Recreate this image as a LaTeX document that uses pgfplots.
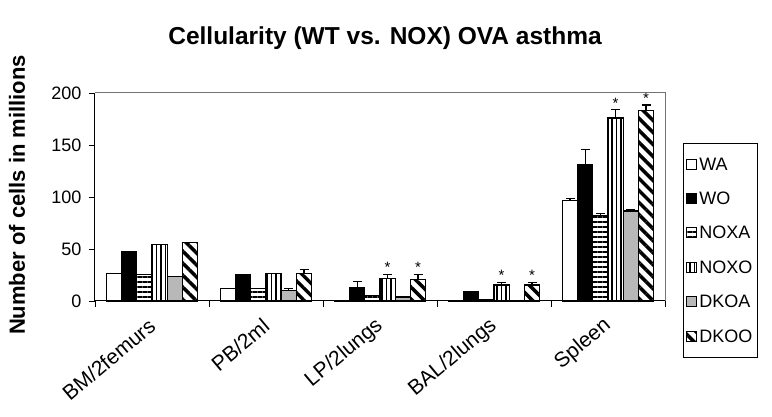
\documentclass[border=0pt]{standalone}
\usepackage{fontspec}
\setmainfont{Liberation Sans}
\usepackage{pgfplots}
\pgfplotsset{compat=1.18}
\usepackage{pgfplotstable}
\usetikzlibrary{patterns.meta}

% cell counts (millions) per compartment, with upper error and significance flag
\pgfplotstableread{
x   WA   WAe  WO    WOe  NOXA NOXAe NOXO NOXOe NOXOs DKOA DKOAe DKOO DKOOe DKOOs
0.5 26.5 0    47.7  0    25.8 0     54   0     n     23.2 0     56.4 0     n
1.5 12.2 0    25.8  0    12.2 0     26.4 0     n     10.3 2     26.4 3.6   n
2.5 0.8  0    12.9  5.5  5.5  0     21.9 3.9   s     3.9  0     20.3 5.2   s
3.5 0.5  0    8.7   0    1    0     15.4 2.6   s     0.8  0     15.4 2.6   s
4.5 96.5 2    131.5 14.5 82   2     176  8     s     86.5 1     183  5.5   s
}\cells

\pgfplotsset{
  barbase/.style={
    draw=black, line width=1.2pt,
    legend image code/.code={\draw[##1, line width=1pt] (0pt,-4.5pt) rectangle (10pt,5.5pt);},
    error bars/y dir=plus,
    error bars/y explicit,
    error bars/error bar style={black, line width=1.2pt},
    error bars/error mark options={black, rotate=90, line width=1.2pt, mark size=4.5pt},
  },
  starred/.style={
    point meta=explicit symbolic,
    nodes near coords={\if s\pgfplotspointmeta *\fi},
    visualization depends on={\thisrow{#1} \as \errv},
    every node near coord/.append style={
      anchor=south, inner sep=1pt, yshift=\errv*1.04pt,
      font=\fontsize{15}{15}\selectfont, text=black},
  },
}

\begin{document}
\begin{tikzpicture}
\useasboundingbox (0,0) rectangle (772pt,417pt);
\begin{axis}[
  at={(95pt,116pt)}, anchor=south west,
  scale only axis, width=570pt, height=208pt,
  xmin=0, xmax=5, ymin=0, ymax=200,
  clip=false,
  ybar=0pt, bar width=15.2pt,
  axis x line*=bottom, axis y line*=left,
  axis line style={black, line width=1pt},
  tick align=outside, major tick length=6pt,
  tick style={black, line width=0.9pt},
  ytick={0,50,...,200},
  xtick={0,1,...,5}, xticklabels={},
  extra x ticks={0.5,1.5,2.5,3.5,4.5},
  extra x tick labels={BM/2femurs,PB/2ml,LP/2lungs,BAL/2lungs,Spleen},
  extra x tick style={major tick length=0pt,
    tick label style={rotate=40, anchor=east, inner sep=0pt,
      xshift=-14pt, yshift=-17pt, font=\fontsize{21}{22}\selectfont}},
  y tick label style={font=\fontsize{18}{19}\selectfont, xshift=-4pt},
  /pgf/number format/assume math mode=true,
  ylabel={Number of cells in millions},
  ylabel style={font=\bfseries\fontsize{22}{23}\selectfont,
    at={(axis description cs:-0.137,0.51)}, anchor=center},
  title={Cellularity (WT vs. NOX) OVA asthma},
  title style={font=\bfseries\fontsize{24.5}{25}\selectfont,
    at={(axis description cs:0.5088,1.236)}, anchor=center},
  legend style={at={(1.0316,0.7596)}, anchor=north west,
    draw=black, line width=0.8pt, font=\fontsize{18}{19}\selectfont,
    row sep=0pt, inner xsep=3pt, inner ysep=4pt,
    nodes={minimum height=34.4pt}},
  legend cell align=left,
]
% plot-area frame on the top and right sides
\draw[black!55, line width=1pt] (rel axis cs:0,1) -- (rel axis cs:1,1) -- (rel axis cs:1,0);

\addplot[barbase, fill=white] table[x=x, y=WA, y error=WAe] {\cells};
\addplot[barbase, fill=black] table[x=x, y=WO, y error=WOe] {\cells};
\addplot[barbase, pattern={Lines[angle=0, distance=5pt, line width=1.6pt]}]
  table[x=x, y=NOXA, y error=NOXAe] {\cells};
\addplot[barbase, starred=NOXOe, pattern={Lines[angle=90, distance=4.6pt, line width=1.6pt]}]
  table[x=x, y=NOXO, y error=NOXOe, meta=NOXOs] {\cells};
\addplot[barbase, fill=black!28] table[x=x, y=DKOA, y error=DKOAe] {\cells};
\addplot[barbase, starred=DKOOe, pattern={Lines[angle=-45, distance=8.5pt, line width=3.5pt]}]
  table[x=x, y=DKOO, y error=DKOOe, meta=DKOOs] {\cells};
\legend{WA,WO,NOXA,NOXO,DKOA,DKOO}
\end{axis}
\end{tikzpicture}
\end{document}
